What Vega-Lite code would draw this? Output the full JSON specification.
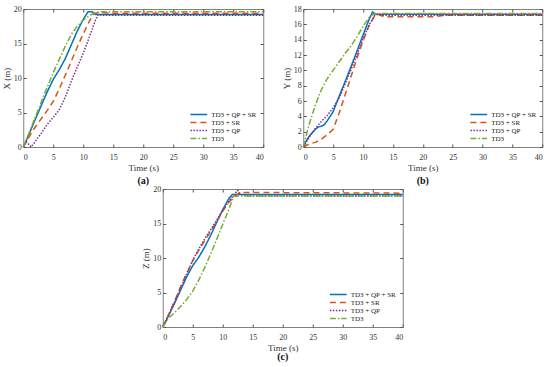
{
  "$schema": "https://vega.github.io/schema/vega-lite/v6.json",
  "padding": {"left": 1, "top": 4, "right": 5, "bottom": 0},
  "datasets": {
    "a": [
      {"t":0,"v":0,"m":"TD3 + QP + SR"},{"t":1,"v":1.9,"m":"TD3 + QP + SR"},{"t":2,"v":4,"m":"TD3 + QP + SR"},{"t":3,"v":6,"m":"TD3 + QP + SR"},{"t":4,"v":8,"m":"TD3 + QP + SR"},{"t":5,"v":9.8,"m":"TD3 + QP + SR"},{"t":6,"v":11.2,"m":"TD3 + QP + SR"},{"t":7,"v":12.8,"m":"TD3 + QP + SR"},{"t":8,"v":14.8,"m":"TD3 + QP + SR"},{"t":9,"v":16.8,"m":"TD3 + QP + SR"},{"t":10,"v":18.5,"m":"TD3 + QP + SR"},{"t":10.8,"v":19.6,"m":"TD3 + QP + SR"},{"t":11.5,"v":19.6,"m":"TD3 + QP + SR"},{"t":12,"v":19.2,"m":"TD3 + QP + SR"},{"t":40,"v":19.2,"m":"TD3 + QP + SR"},
      {"t":0,"v":0,"m":"TD3 + SR"},{"t":1,"v":1.5,"m":"TD3 + SR"},{"t":2,"v":2.9,"m":"TD3 + SR"},{"t":3,"v":4.1,"m":"TD3 + SR"},{"t":4,"v":5.3,"m":"TD3 + SR"},{"t":5,"v":6.6,"m":"TD3 + SR"},{"t":6,"v":8.4,"m":"TD3 + SR"},{"t":7,"v":10.4,"m":"TD3 + SR"},{"t":8,"v":12.4,"m":"TD3 + SR"},{"t":9,"v":14.5,"m":"TD3 + SR"},{"t":10,"v":16.4,"m":"TD3 + SR"},{"t":11,"v":18.2,"m":"TD3 + SR"},{"t":11.8,"v":19.3,"m":"TD3 + SR"},{"t":12.5,"v":19.5,"m":"TD3 + SR"},{"t":15,"v":19.4,"m":"TD3 + SR"},{"t":40,"v":19.4,"m":"TD3 + SR"},
      {"t":0,"v":0,"m":"TD3 + QP"},{"t":0.5,"v":0.8,"m":"TD3 + QP"},{"t":0.8,"v":0.5,"m":"TD3 + QP"},{"t":1.3,"v":0,"m":"TD3 + QP"},{"t":2,"v":0.8,"m":"TD3 + QP"},{"t":3,"v":2,"m":"TD3 + QP"},{"t":4,"v":3.3,"m":"TD3 + QP"},{"t":5,"v":4.3,"m":"TD3 + QP"},{"t":6,"v":5.4,"m":"TD3 + QP"},{"t":7,"v":7.2,"m":"TD3 + QP"},{"t":8,"v":9.5,"m":"TD3 + QP"},{"t":9,"v":11.6,"m":"TD3 + QP"},{"t":10,"v":13.6,"m":"TD3 + QP"},{"t":11,"v":15.9,"m":"TD3 + QP"},{"t":12,"v":18.3,"m":"TD3 + QP"},{"t":12.5,"v":19.2,"m":"TD3 + QP"},{"t":13,"v":19.1,"m":"TD3 + QP"},{"t":40,"v":19.1,"m":"TD3 + QP"},
      {"t":0,"v":0,"m":"TD3"},{"t":1,"v":2.1,"m":"TD3"},{"t":2,"v":4.3,"m":"TD3"},{"t":3,"v":6.5,"m":"TD3"},{"t":4,"v":8.7,"m":"TD3"},{"t":5,"v":10.8,"m":"TD3"},{"t":6,"v":12.7,"m":"TD3"},{"t":7,"v":14.6,"m":"TD3"},{"t":8,"v":16.3,"m":"TD3"},{"t":9,"v":17.5,"m":"TD3"},{"t":10,"v":18.4,"m":"TD3"},{"t":11,"v":19,"m":"TD3"},{"t":12,"v":19.5,"m":"TD3"},{"t":13,"v":19.6,"m":"TD3"},{"t":40,"v":19.6,"m":"TD3"}
    ],
    "b": [
      {"t":0,"v":0,"m":"TD3 + QP + SR"},{"t":0.5,"v":0.8,"m":"TD3 + QP + SR"},{"t":1,"v":1.4,"m":"TD3 + QP + SR"},{"t":2,"v":2.3,"m":"TD3 + QP + SR"},{"t":2.5,"v":2.6,"m":"TD3 + QP + SR"},{"t":3,"v":2.7,"m":"TD3 + QP + SR"},{"t":3.5,"v":2.9,"m":"TD3 + QP + SR"},{"t":4,"v":3.4,"m":"TD3 + QP + SR"},{"t":5,"v":4.6,"m":"TD3 + QP + SR"},{"t":6,"v":6.6,"m":"TD3 + QP + SR"},{"t":7,"v":8.5,"m":"TD3 + QP + SR"},{"t":8,"v":10.5,"m":"TD3 + QP + SR"},{"t":9,"v":12.5,"m":"TD3 + QP + SR"},{"t":10,"v":14.6,"m":"TD3 + QP + SR"},{"t":11,"v":16.6,"m":"TD3 + QP + SR"},{"t":11.6,"v":17.6,"m":"TD3 + QP + SR"},{"t":12.2,"v":17.3,"m":"TD3 + QP + SR"},{"t":40,"v":17.3,"m":"TD3 + QP + SR"},
      {"t":0,"v":0,"m":"TD3 + SR"},{"t":1,"v":0.4,"m":"TD3 + SR"},{"t":2,"v":0.6,"m":"TD3 + SR"},{"t":3,"v":1,"m":"TD3 + SR"},{"t":4,"v":1.6,"m":"TD3 + SR"},{"t":5,"v":2.3,"m":"TD3 + SR"},{"t":6,"v":4.4,"m":"TD3 + SR"},{"t":7,"v":6.8,"m":"TD3 + SR"},{"t":8,"v":9.2,"m":"TD3 + SR"},{"t":9,"v":11.6,"m":"TD3 + SR"},{"t":10,"v":13.8,"m":"TD3 + SR"},{"t":11,"v":15.8,"m":"TD3 + SR"},{"t":12,"v":17.2,"m":"TD3 + SR"},{"t":12.5,"v":17.3,"m":"TD3 + SR"},{"t":13.5,"v":17,"m":"TD3 + SR"},{"t":22,"v":17,"m":"TD3 + SR"},{"t":24,"v":17.2,"m":"TD3 + SR"},{"t":40,"v":17.2,"m":"TD3 + SR"},
      {"t":0,"v":0,"m":"TD3 + QP"},{"t":1,"v":1.3,"m":"TD3 + QP"},{"t":2,"v":2.4,"m":"TD3 + QP"},{"t":3,"v":3.3,"m":"TD3 + QP"},{"t":4,"v":4.1,"m":"TD3 + QP"},{"t":5,"v":5.1,"m":"TD3 + QP"},{"t":6,"v":6.4,"m":"TD3 + QP"},{"t":7,"v":8.2,"m":"TD3 + QP"},{"t":8,"v":10.1,"m":"TD3 + QP"},{"t":9,"v":12.1,"m":"TD3 + QP"},{"t":10,"v":14.1,"m":"TD3 + QP"},{"t":11,"v":15.9,"m":"TD3 + QP"},{"t":12,"v":17.2,"m":"TD3 + QP"},{"t":12.5,"v":17.3,"m":"TD3 + QP"},{"t":13,"v":17.2,"m":"TD3 + QP"},{"t":40,"v":17.2,"m":"TD3 + QP"},
      {"t":0,"v":0,"m":"TD3"},{"t":1,"v":3,"m":"TD3"},{"t":2,"v":5.4,"m":"TD3"},{"t":3,"v":7.4,"m":"TD3"},{"t":4,"v":8.9,"m":"TD3"},{"t":5,"v":10,"m":"TD3"},{"t":6,"v":11.1,"m":"TD3"},{"t":7,"v":12.2,"m":"TD3"},{"t":8,"v":13.2,"m":"TD3"},{"t":9,"v":14.4,"m":"TD3"},{"t":10,"v":15.7,"m":"TD3"},{"t":11,"v":16.9,"m":"TD3"},{"t":11.7,"v":17.3,"m":"TD3"},{"t":12.5,"v":17.4,"m":"TD3"},{"t":40,"v":17.4,"m":"TD3"}
    ],
    "c": [
      {"t":0,"v":0,"m":"TD3 + QP + SR"},{"t":1,"v":1.7,"m":"TD3 + QP + SR"},{"t":2,"v":3.5,"m":"TD3 + QP + SR"},{"t":3,"v":5.4,"m":"TD3 + QP + SR"},{"t":4,"v":7.3,"m":"TD3 + QP + SR"},{"t":5,"v":8.9,"m":"TD3 + QP + SR"},{"t":6,"v":10.1,"m":"TD3 + QP + SR"},{"t":7,"v":11.6,"m":"TD3 + QP + SR"},{"t":8,"v":13.3,"m":"TD3 + QP + SR"},{"t":9,"v":15.2,"m":"TD3 + QP + SR"},{"t":10,"v":17,"m":"TD3 + QP + SR"},{"t":11,"v":18.6,"m":"TD3 + QP + SR"},{"t":11.6,"v":19.2,"m":"TD3 + QP + SR"},{"t":40,"v":19.2,"m":"TD3 + QP + SR"},
      {"t":0,"v":0,"m":"TD3 + SR"},{"t":1,"v":1.8,"m":"TD3 + SR"},{"t":2,"v":3.8,"m":"TD3 + SR"},{"t":3,"v":5.9,"m":"TD3 + SR"},{"t":4,"v":7.8,"m":"TD3 + SR"},{"t":5,"v":9.6,"m":"TD3 + SR"},{"t":6,"v":11.1,"m":"TD3 + SR"},{"t":7,"v":12.5,"m":"TD3 + SR"},{"t":8,"v":13.9,"m":"TD3 + SR"},{"t":9,"v":15.3,"m":"TD3 + SR"},{"t":10,"v":16.8,"m":"TD3 + SR"},{"t":11,"v":18.1,"m":"TD3 + SR"},{"t":12,"v":18.9,"m":"TD3 + SR"},{"t":12.8,"v":19.5,"m":"TD3 + SR"},{"t":40,"v":19.4,"m":"TD3 + SR"},
      {"t":0,"v":0,"m":"TD3 + QP"},{"t":1,"v":1.8,"m":"TD3 + QP"},{"t":2,"v":3.7,"m":"TD3 + QP"},{"t":3,"v":5.7,"m":"TD3 + QP"},{"t":4,"v":7.7,"m":"TD3 + QP"},{"t":5,"v":9.7,"m":"TD3 + QP"},{"t":6,"v":11.3,"m":"TD3 + QP"},{"t":7,"v":12.8,"m":"TD3 + QP"},{"t":8,"v":14.1,"m":"TD3 + QP"},{"t":9,"v":15.5,"m":"TD3 + QP"},{"t":10,"v":16.9,"m":"TD3 + QP"},{"t":11,"v":18.2,"m":"TD3 + QP"},{"t":12,"v":19.3,"m":"TD3 + QP"},{"t":12.5,"v":19.8,"m":"TD3 + QP"},{"t":13,"v":19.2,"m":"TD3 + QP"},{"t":14,"v":19,"m":"TD3 + QP"},{"t":40,"v":19,"m":"TD3 + QP"},
      {"t":0,"v":0,"m":"TD3"},{"t":1,"v":1.3,"m":"TD3"},{"t":2,"v":2.1,"m":"TD3"},{"t":3,"v":3,"m":"TD3"},{"t":4,"v":4,"m":"TD3"},{"t":5,"v":5.2,"m":"TD3"},{"t":6,"v":6.8,"m":"TD3"},{"t":7,"v":8.6,"m":"TD3"},{"t":8,"v":10.6,"m":"TD3"},{"t":9,"v":12.7,"m":"TD3"},{"t":10,"v":14.9,"m":"TD3"},{"t":11,"v":17,"m":"TD3"},{"t":11.8,"v":18.9,"m":"TD3"},{"t":12.5,"v":19,"m":"TD3"},{"t":40,"v":19,"m":"TD3"}
    ]
  },
  "vconcat": [
    {
      "hconcat": [
        {
          "width": 240, "height": 138,
          "title": {"text": "(a)"},
          "data": {"name": "a"},
          "layer": [
            {"mark": {"type": "line", "strokeWidth": 1.5},
             "encoding": {
               "x": {"field": "t", "type": "quantitative", "scale": {"domain": [0, 40]}, "axis": {"orient": "bottom", "title": "Time (s)", "values": [0,5,10,15,20,25,30,35,40]}},
               "y": {"field": "v", "type": "quantitative", "scale": {"domain": [0, 20]}, "axis": {"orient": "left", "title": "X (m)", "values": [0,5,10,15,20]}},
               "color": {"field": "m", "type": "nominal", "scale": {"domain": ["TD3 + QP + SR","TD3 + SR","TD3 + QP","TD3"], "range": ["#0072BD","#D95319","#7E2F8E","#77AC30"]}, "legend": {"title": null}},
               "strokeDash": {"field": "m", "type": "nominal", "scale": {"domain": ["TD3 + QP + SR","TD3 + SR","TD3 + QP","TD3"], "range": [[1,0],[6,4],[1.5,1.5],[6,2,1.5,2]]}, "legend": {"title": null}}
             }},
            {"mark": {"type": "point", "opacity": 0},
             "encoding": {
               "x": {"field": "t", "type": "quantitative", "axis": {"orient": "top", "labels": false, "title": null, "values": [0,5,10,15,20,25,30,35,40]}},
               "y": {"field": "v", "type": "quantitative", "axis": {"orient": "right", "labels": false, "title": null, "values": [0,5,10,15,20]}}
             }}
          ],
          "resolve": {"axis": {"x": "independent", "y": "independent"}}
        },
        {
          "width": 239, "height": 138,
          "title": {"text": "(b)"},
          "data": {"name": "b"},
          "layer": [
            {"mark": {"type": "line", "strokeWidth": 1.5},
             "encoding": {
               "x": {"field": "t", "type": "quantitative", "scale": {"domain": [0, 40]}, "axis": {"orient": "bottom", "title": "Time (s)", "values": [0,5,10,15,20,25,30,35,40]}},
               "y": {"field": "v", "type": "quantitative", "scale": {"domain": [0, 18]}, "axis": {"orient": "left", "title": "Y (m)", "values": [0,2,4,6,8,10,12,14,16,18]}},
               "color": {"field": "m", "type": "nominal", "scale": {"domain": ["TD3 + QP + SR","TD3 + SR","TD3 + QP","TD3"], "range": ["#0072BD","#D95319","#7E2F8E","#77AC30"]}, "legend": {"title": null}},
               "strokeDash": {"field": "m", "type": "nominal", "scale": {"domain": ["TD3 + QP + SR","TD3 + SR","TD3 + QP","TD3"], "range": [[1,0],[6,4],[1.5,1.5],[6,2,1.5,2]]}, "legend": {"title": null}}
             }},
            {"mark": {"type": "point", "opacity": 0},
             "encoding": {
               "x": {"field": "t", "type": "quantitative", "axis": {"orient": "top", "labels": false, "title": null, "values": [0,5,10,15,20,25,30,35,40]}},
               "y": {"field": "v", "type": "quantitative", "axis": {"orient": "right", "labels": false, "title": null, "values": [0,2,4,6,8,10,12,14,16,18]}}
             }}
          ],
          "resolve": {"axis": {"x": "independent", "y": "independent"}}
        }
      ],
      "spacing": 14,
      "resolve": {"legend": {"color": "independent", "strokeDash": "independent"}}
    },
    {
      "width": 240, "height": 138,
      "title": {"text": "(c)", "offset": 0},
      "data": {"name": "c"},
      "layer": [
        {"mark": {"type": "line", "strokeWidth": 1.5},
         "encoding": {
           "x": {"field": "t", "type": "quantitative", "scale": {"domain": [0, 40]}, "axis": {"orient": "bottom", "title": "Time (s)", "values": [0,5,10,15,20,25,30,35,40]}},
           "y": {"field": "v", "type": "quantitative", "scale": {"domain": [0, 20]}, "axis": {"orient": "left", "title": "Z (m)", "values": [0,5,10,15,20]}},
           "color": {"field": "m", "type": "nominal", "scale": {"domain": ["TD3 + QP + SR","TD3 + SR","TD3 + QP","TD3"], "range": ["#0072BD","#D95319","#7E2F8E","#77AC30"]}, "legend": {"title": null}},
           "strokeDash": {"field": "m", "type": "nominal", "scale": {"domain": ["TD3 + QP + SR","TD3 + SR","TD3 + QP","TD3"], "range": [[1,0],[6,4],[1.5,1.5],[6,2,1.5,2]]}, "legend": {"title": null}}
         }},
        {"mark": {"type": "point", "opacity": 0},
         "encoding": {
           "x": {"field": "t", "type": "quantitative", "axis": {"orient": "top", "labels": false, "title": null, "values": [0,5,10,15,20,25,30,35,40]}},
           "y": {"field": "v", "type": "quantitative", "axis": {"orient": "right", "labels": false, "title": null, "values": [0,5,10,15,20]}}
         }}
      ],
      "resolve": {"axis": {"x": "independent", "y": "independent"}}
    }
  ],
  "spacing": -3,
  "center": true,
  "resolve": {"legend": {"color": "independent", "strokeDash": "independent"}},
  "config": {
    "font": "Liberation Serif",
    "view": {"stroke": "#808080", "strokeWidth": 1},
    "axis": {"domain": false, "grid": false, "tickSize": -3, "tickColor": "#555", "labelFont": "Liberation Serif", "labelFontSize": 8, "labelColor": "#333", "labelPadding": 5, "titleFont": "Liberation Serif", "titleFontSize": 9, "titleFontWeight": "normal", "titleColor": "#333", "titlePadding": 2, "minExtent": 0},
    "axisX": {"labelPadding": 9, "titlePadding": 2},
    "legend": {"orient": "none", "legendX": 166, "legendY": 102, "symbolType": "stroke", "symbolSize": 280, "symbolStrokeWidth": 1.5, "labelFont": "Liberation Serif", "labelFontSize": 7, "labelColor": "#222", "labelOffset": 3, "rowPadding": 0, "clipHeight": 7, "padding": 0},
    "title": {"orient": "bottom", "font": "Liberation Serif", "fontSize": 10, "fontWeight": "bold", "color": "#111", "offset": 0}
  }
}
